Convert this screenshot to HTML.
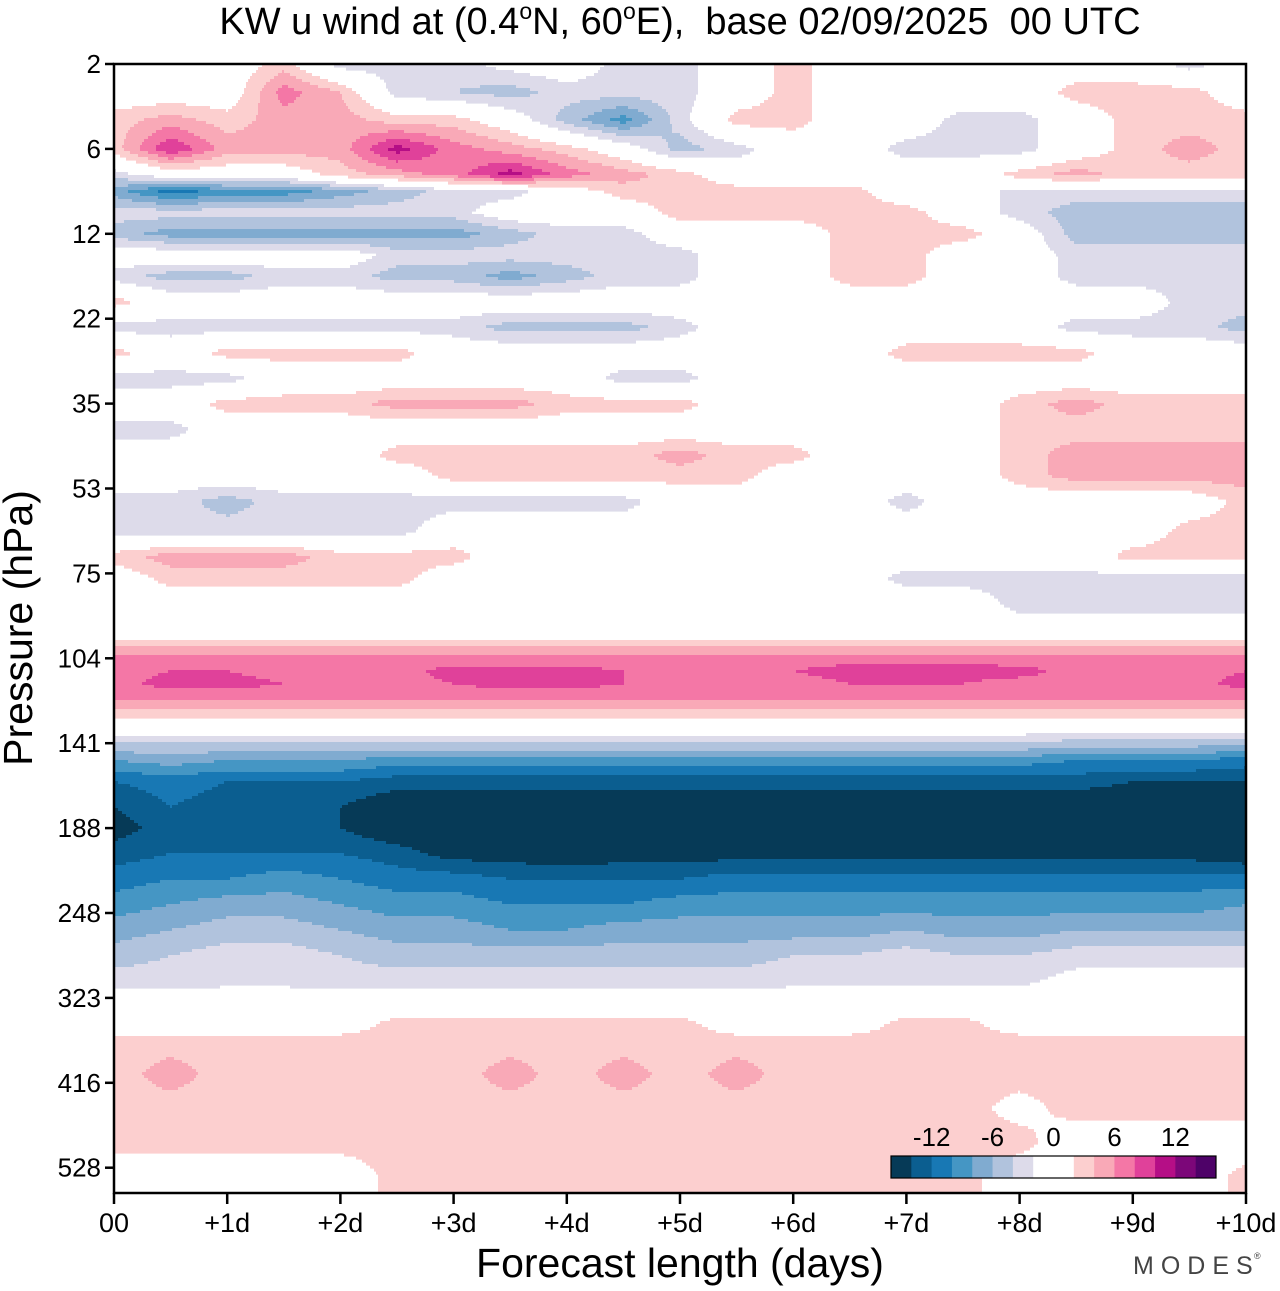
<!DOCTYPE html>
<html><head><meta charset="utf-8">
<style>
html,body{margin:0;padding:0;background:#fff;}
body{width:1280px;height:1286px;overflow:hidden;position:relative;font-family:"Liberation Sans",sans-serif;}
svg text{font-family:"Liberation Sans",sans-serif;white-space:pre;}
</style></head>
<body>
<svg id="chart" width="1280" height="1286" viewBox="0 0 1280 1286" xmlns="http://www.w3.org/2000/svg">
<text x="680" y="34" font-size="38" text-anchor="middle" xml:space="preserve">KW u wind at (0.4<tspan font-size="23" dy="-15">o</tspan><tspan dy="15">N, 60</tspan><tspan font-size="23" dy="-15">o</tspan><tspan dy="15">E),  base 02/09/2025  00 UTC</tspan></text>
<g id="field"></g>
<rect x="114" y="64" width="1132" height="1129" fill="none" stroke="#000" stroke-width="2.5"/>
<g id="yaxis"></g>
<g id="xaxis"></g>
<text transform="translate(32,628) rotate(-90)" font-size="41" text-anchor="middle">Pressure (hPa)</text>
<text x="680" y="1277" font-size="41" text-anchor="middle">Forecast length (days)</text>
<g id="cbar"></g>
<text x="1133" y="1274" font-size="25" fill="#444" letter-spacing="7">MODES</text>
<text x="1254" y="1259" font-size="9" fill="#444">®</text>
</svg>
<script>
// ---- data ----
const yTickLabels = ["2","6","12","22","35","53","75","104","141","188","248","323","416","528"];
const xTickLabels = ["00","+1d","+2d","+3d","+4d","+5d","+6d","+7d","+8d","+9d","+10d"];
const cbarLabels = [-12,-6,0,6,12];
const cbarEdges = [-16,-14,-12,-10,-8,-6,-4,-2,0,2,4,6,8,10,12,14,16];
// times: half-day steps 0..10 days (21 columns)
const times = [0,0.5,1,1.5,2,2.5,3,3.5,4,4.5,5,5.5,6,6.5,7,7.5,8,8.5,9,9.5,10];
// model level index (0 = 2 hPa tick, 13 = 528 hPa tick) of each data row
const levels = [0,0.33,0.66,1.0,1.3,1.5,1.75,2.0,2.25,2.5,2.8,3.1,3.4,3.7,4.0,4.3,4.6,4.85,5.15,5.5,5.8,6.05,6.35,6.7,6.85,7.0,7.15,7.3,7.45,7.6,7.8,8.0,8.2,8.45,8.75,9.0,9.3,9.6,9.9,10.2,10.5,10.8,11.1,11.3,11.5,11.9,12.3,12.7,13.1,13.3];
// u wind (m/s), one row per level
const uWind = [
[0,0,0,3,-3,-3,-3,-1,0,-3,-3,0,3,0,0,0,0,0,0,-3,0],
[0,0,0,7,4,-3,-4,-5,-3,-3,-3,0,3,0,0,0,0,3,3,3,0],
[3,5,3,5,5,3,3,0,-5,-9,-3,3,3,0,0,-3,-3,0,3,3,3],
[3,10,5,5,5,11,7,5,3,0,-5,-3,0,0,-3,-3,-3,0,3,5,3],
[-3,0,0,0,3,5,7,11,7,5,3,0,0,0,0,0,3,5,3,3,3],
[-7,-11,-9,-9,-7,-5,-3,-3,0,3,3,3,3,3,0,0,-3,-3,-3,-3,-3],
[-3,-3,-3,-3,-3,-3,-3,0,0,0,3,3,3,3,3,0,-3,-5,-5,-5,-5],
[-5,-7,-7,-7,-7,-7,-7,-5,-3,-3,0,0,0,3,3,3,0,-5,-5,-5,-5],
[0,0,0,0,0,-3,-3,-3,-3,-3,-3,0,0,3,3,0,0,-3,-3,-3,-3],
[-3,-5,-5,-3,-3,-5,-5,-7,-5,-3,-3,0,0,3,3,0,0,-3,-3,-3,-3],
[3,0,0,0,0,0,0,0,0,0,0,0,0,0,0,0,0,0,0,-3,-3],
[-3,-3,-3,-3,-3,-3,-3,-5,-5,-5,-3,0,0,0,0,0,0,-3,-3,-3,-5],
[3,0,3,3,3,3,0,0,0,0,0,0,0,0,3,3,3,3,0,0,0],
[-3,-3,-3,0,0,0,0,0,0,-3,-3,0,0,0,0,0,0,0,0,0,0],
[0,0,3,3,3,5,5,5,3,3,3,0,0,0,0,0,3,5,3,3,3],
[-3,-3,0,0,0,0,0,0,0,0,0,0,0,0,0,0,3,3,3,3,3],
[0,0,0,0,0,3,3,3,3,3,5,3,3,0,0,0,3,5,5,5,5],
[0,0,0,0,0,0,3,3,3,3,3,3,0,0,0,0,3,5,5,5,5],
[-3,-3,-5,-3,-3,-3,-3,-3,-3,-3,0,0,0,0,-3,0,0,0,0,0,3],
[-3,-3,-3,-3,-3,-3,0,0,0,0,0,0,0,0,0,0,0,0,0,3,3],
[3,5,5,5,3,3,3,0,0,0,0,0,0,0,0,0,0,0,3,3,3],
[0,3,3,3,3,3,0,0,0,0,0,0,0,0,-3,-3,-3,-3,-3,-3,-3],
[0,0,0,0,0,0,0,0,0,0,0,0,0,0,0,0,-3,-3,-3,-3,-3],
[0,0,0,0,0,0,0,0,0,0,0,0,0,0,0,0,0,0,0,0,0],
[4,4,4,4,4,4,4,4,4,4,4,4,4,4,4,4,4,4,4,4,4],
[6.5,6.5,6.5,6.5,6.5,6.5,6.5,6.5,6.5,6.5,6.5,6.5,7,7,7,7,6.5,6.5,6.5,6.5,6.5],
[7,8,8,7,7,7,9,9,9,8,7,7,8,9,9,9,9,7,7,7,8],
[7,9,9,8,7,7,8,9,9,8,7,7,7,8,8,8,7,7,7,7,9],
[6.5,6.5,6.5,6.5,6.5,6.5,6.5,6.5,6.5,6.5,6.5,6.5,6.5,6.5,6.5,6.5,6.5,6.5,6.5,6.5,6.5],
[4,4,4,4,4,4,4,4,4,4,4,4,4,4,4,4,4,4,4,4,4],
[0,0,0,0,0,0,0,0,0,0,0,0,0,0,0,0,0,0,0,0,0],
[-4,-4,-4,-4,-4,-4,-4,-4,-4,-4,-4,-4,-4,-4,-4,-4,-4,-5,-5,-5,-5],
[-8,-7,-8,-8,-8,-9,-9,-9,-9,-9,-9,-9,-9,-9,-9,-9,-9,-10,-10,-10,-11],
[-12,-11,-12,-12,-12,-13,-13,-13,-13,-13,-13,-13,-13,-13,-13,-13,-13,-13,-14,-14,-14],
[-14,-12,-13,-13,-14,-16,-16,-16,-16,-16,-16,-16,-16,-16,-16,-16,-16,-16,-16,-16,-16],
[-15,-13,-13,-13,-14,-16,-16,-16,-16,-16,-16,-16,-16,-16,-16,-16,-16,-16,-16,-16,-16],
[-13,-12,-12,-12,-12,-13,-15,-15,-16,-15,-15,-15,-15,-15,-15,-15,-15,-15,-15,-15,-16],
[-11,-10,-10,-9,-10,-11,-11,-12,-12,-12,-12,-11,-11,-11,-11,-11,-11,-11,-11,-11,-11],
[-9,-8,-7,-7,-8,-9,-9,-10,-10,-10,-9,-9,-9,-9,-9,-9,-9,-9,-9,-9,-8],
[-7,-6,-5,-5,-6,-7,-7,-8,-8,-7,-7,-7,-7,-7,-6,-7,-7,-6,-6,-6,-6],
[-5,-4,-3,-3,-4,-5,-5,-5,-5,-5,-5,-5,-4,-4,-3,-4,-4,-3,-3,-3,-3],
[-3,-3,-2.5,-2.5,-3,-3,-3,-3,-3,-3,-3,-3,-2.5,-2.5,-2.5,-2.5,-2.5,-1,-1,-1,-1],
[0,0,0,0,0,0,0,0,0,0,0,0,0,0,0,0,0,0,0,0,0],
[0,0,0,0,0,3,3,3,3,3,3,0,0,0,3,3,0,0,0,0,0],
[3,3,3,3,3,3,3,3,3,3,3,3,3,3,3,3,3,3,3,3,3],
[3,5,3,3,3,3,3,5,3,5,3,5,3,3,3,3,3,3,3,3,3],
[3,3,3,3,3,3,3,3,3,3,3,3,3,3,3,3,1,3,3,3,3],
[3,3,3,3,3,3,3,3,3,3,3,3,3,3,3,3,3,0,0,0,0],
[0,0,0,0,0,3,3,3,3,3,3,3,3,3,3,3,0,0,0,0,3],
[0,0,0,0,0,3,3,3,3,3,3,3,3,3,3,3,0,0,0,0,3]
];
const palette = ["#063a57","#0b5e90","#1878b4","#4596c4","#80abd0","#b1c3dd","#dddbea","#ffffff","#ffffff","#fccfcf","#f9a9b7","#f477a6","#e0419a","#b50e86","#7c0779","#4e0268"];

// ---- axes ----
const X0=114, X1=1246, Y0=64, LSTEP=84.9, YB=1193;
const xOfDay = d => X0 + d*(X1-X0)/10;
const yOfLevel = l => Y0 + l*LSTEP;
const levelOfY = y => (y-Y0)/LSTEP;
const dayOfX = x => (x-X0)*10/(X1-X0);
const NS="http://www.w3.org/2000/svg";
function mk(tag, attrs, parent){const e=document.createElementNS(NS,tag);for(const k in attrs)e.setAttribute(k,attrs[k]);parent.appendChild(e);return e;}
function colorOf(v){
  let i=0; while(i<palette.length-1 && v>=cbarEdges[i+1]) i++;
  if(v<cbarEdges[1]) i=0;
  return palette[Math.max(0,Math.min(palette.length-1,i))];
}
function valueAt(day, lev){
  const tmax=times.length-1;
  let tf=(day-times[0])/(times[1]-times[0]); tf=Math.max(0,Math.min(tmax-1e-6,tf));
  const ti=Math.floor(tf), ft=tf-ti;
  let r=0; while(r<levels.length-2 && lev>levels[r+1]) r++;
  let fr=(lev-levels[r])/(levels[r+1]-levels[r]); fr=Math.max(0,Math.min(1,fr));
  const a=uWind[r][ti]*(1-ft)+uWind[r][ti+1]*ft;
  const b=uWind[r+1][ti]*(1-ft)+uWind[r+1][ti+1]*ft;
  return a*(1-fr)+b*fr;
}
// field
const field=document.getElementById('field');
const DY=3, DX=2;
for(let y=Y0;y<YB;y+=DY){
  const lev=levelOfY(y+DY/2);
  let runStart=X0, runCol=null;
  for(let x=X0;x<=X1;x+=DX){
    const col = x<X1 ? colorOf(valueAt(dayOfX(x+DX/2),lev)) : null;
    if(col!==runCol){
      if(runCol && runCol!=="#ffffff"){
        const r=mk('rect',{x:runStart,y:y,width:Math.min(x,X1)-runStart,height:Math.min(DY+0.6,YB-y),fill:runCol},field);
        
        
      }
      runStart=x; runCol=col;
    }
  }
}
// y axis
const ya=document.getElementById('yaxis');
yTickLabels.forEach((lab,i)=>{
  const y=yOfLevel(i);
  const t=mk('line',{x1:X0-9,x2:X0,y1:y,y2:y,stroke:'#000','stroke-width':2.5},ya);
  
  
  const tx=mk('text',{x:X0-13,y:y+9,'font-size':26,'text-anchor':'end'},ya);
  tx.textContent=lab;
  
  
});
// x axis
const xa=document.getElementById('xaxis');
xTickLabels.forEach((lab,i)=>{
  const x=xOfDay(i);
  const t=mk('line',{x1:x,x2:x,y1:YB,y2:YB+11,stroke:'#000','stroke-width':2.5},xa);
  
  
  const tx=mk('text',{x:x,y:YB+39,'font-size':27,'text-anchor':'middle'},xa);
  tx.textContent=lab;
  
  
});
// colorbar
const cb=document.getElementById('cbar');
const CBX0=891, CBX1=1216, CBY=1156, CBH=22;
const bw=(CBX1-CBX0)/palette.length;
palette.forEach((c,i)=>{
  const r=mk('rect',{x:CBX0+i*bw,y:CBY,width:bw+0.5,height:CBH,fill:c},cb);
  
  
});
const fr=mk('rect',{x:CBX0,y:CBY,width:CBX1-CBX0,height:CBH,fill:'none',stroke:'#000','stroke-width':1.2},cb);


cbarLabels.forEach(v=>{
  const i=cbarEdges.indexOf(v);
  const tx=mk('text',{x:CBX0+i*bw,y:CBY-10,'font-size':26,'text-anchor':'middle'},cb);
  tx.textContent=String(v);
  
  
});
</script>
</body></html>
